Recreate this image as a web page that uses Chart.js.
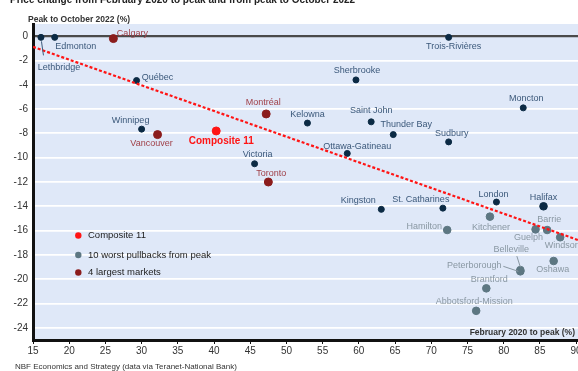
<!DOCTYPE html>
<html>
<head>
<meta charset="utf-8">
<script src="https://cdn.jsdelivr.net/npm/chart.js@4.4.1/dist/chart.umd.min.js"></script>
<style>
  html, body { margin: 0; padding: 0; background: #fff; overflow: hidden; }
  #wrap { position: relative; width: 584px; height: 371px; }
</style>
</head>
<body>
<div id="wrap"><canvas id="chart"></canvas></div>
<script>
// cities with no special highlight
const otherNames = ["Lethbridge", "Edmonton", "Québec", "Trois-Rivières", "Sherbrooke", "Moncton",
  "Winnipeg", "Victoria", "Kelowna", "Saint John", "Thunder Bay", "Sudbury", "Ottawa-Gatineau",
  "Kingston", "St. Catharines", "London", "Halifax"];
const otherX = [16.1, 18.0, 29.3, 72.4, 59.6, 82.7, 30.0, 45.6, 52.9, 61.7, 64.75, 72.4, 58.4, 63.1, 71.6, 79.0, 85.5];
const otherY = [-0.1, -0.1, -3.65, -0.1, -3.6, -5.9, -7.65, -10.5, -7.15, -7.05, -8.1, -8.7, -9.65, -14.25, -14.15, -13.65, -14.0];

// 10 worst pullbacks from peak
const worstNames = ["Kitchener", "Hamilton", "Guelph", "Barrie", "Windsor", "Oshawa",
  "Peterborough", "Belleville", "Brantford", "Abbotsford-Mission"];
const worstX = [78.1, 72.2, 84.4, 86.0, 87.8, 86.9, 82.3, 82.3, 77.6, 76.2];
const worstY = [-14.85, -15.95, -15.9, -15.95, -16.55, -18.5, -19.35, -19.25, -20.75, -22.6];

// 4 largest markets
const largestNames = ["Calgary", "Montréal", "Vancouver", "Toronto"];
const largestX = [26.1, 47.2, 32.2, 47.5];
const largestY = [-0.2, -6.4, -8.1, -12.0];

const compositeNames = ["Composite 11"];
const compositeX = [40.3];
const compositeY = [-7.8];

// trend line end points
const trendX = [15, 90.4];
const trendY = [-0.88, -16.8];

const xTicks = [15, 20, 25, 30, 35, 40, 45, 50, 55, 60, 65, 70, 75, 80, 85, 90];
const yTicks = [0, -2, -4, -6, -8, -10, -12, -14, -16, -18, -20, -22, -24];

const legendItems = ["Composite 11", "10 worst pullbacks from peak", "4 largest markets"];

const toPts = (xs, ys) => xs.map((x, i) => ({ x: x, y: ys[i] }));

const NAVY = "#0b2a44", GREY = "#5d7782", DARKRED = "#8b1c1c", RED = "#ff1414";
const FONT = "'Liberation Sans', Arial, sans-serif";

// label offsets in px from the point: [dx, dy]
const labelPos = {
  "Lethbridge": [18, 30], "Edmonton": [21, 9], "Calgary": [19, -5], "Québec": [21, -3],
  "Trois-Rivières": [5, 9], "Sherbrooke": [1, -9], "Moncton": [3, -9], "Winnipeg": [-11, -9],
  "Vancouver": [-6, 9], "Composite 11": [5, 10], "Victoria": [3, -9], "Toronto": [3, -8],
  "Montréal": [-3, -11], "Kelowna": [0, -9], "Saint John": [0, -11], "Thunder Bay": [13, -10],
  "Sudbury": [3, -8], "Ottawa-Gatineau": [10, -7], "Kingston": [-23, -9], "St. Catharines": [-22, -9],
  "London": [-3, -8], "Halifax": [0, -9], "Kitchener": [1, 11], "Hamilton": [-23, -3],
  "Guelph": [-7, 8], "Barrie": [2, -10], "Windsor": [1, 8], "Oshawa": [-1, 9],
  "Peterborough": [-46, -6], "Belleville": [-9, -21], "Brantford": [3, -9], "Abbotsford-Mission": [-2, -9]
};
const leaders = {
  "Lethbridge": [[0.5, 4], [2.5, 18]],
  "Peterborough": [[-17, -5], [-2, 0]],
  "Belleville": [[-3.5, -14], [0, -3]]
};

const bgPlugin = {
  id: "bg",
  beforeDraw(chart) {
    const { ctx, chartArea: a } = chart;
    ctx.save();
    ctx.fillStyle = "#dfe8f8";
    ctx.fillRect(a.left, a.top, chart.width - a.left, a.bottom - a.top);
    ctx.restore();
  }
};

const labelPlugin = {
  id: "cityLabels",
  afterDatasetsDraw(chart) {
    const ctx = chart.ctx;
    ctx.save();
    ctx.textAlign = "center";
    ctx.textBaseline = "middle";
    chart.data.datasets.forEach((ds, di) => {
      if (!ds.names) return;
      const meta = chart.getDatasetMeta(di);
      meta.data.forEach((el, i) => {
        const name = ds.names[i];
        const off = labelPos[name] || [0, -9];
        if (leaders[name]) {
          const [p0, p1] = leaders[name];
          ctx.strokeStyle = ds.labelColor;
          ctx.lineWidth = 1;
          ctx.beginPath();
          ctx.moveTo(el.x + p0[0], el.y + p0[1]);
          ctx.lineTo(el.x + p1[0], el.y + p1[1]);
          ctx.stroke();
        }
        ctx.fillStyle = ds.labelColor;
        ctx.font = ds.labelFont;
        ctx.fillText(name, el.x + off[0], el.y + off[1]);
      });
    });
    ctx.restore();
  },
  afterDraw(chart) {
    const ctx = chart.ctx;
    ctx.save();
    ctx.textBaseline = "alphabetic";
    ctx.fillStyle = "#222";
    ctx.font = "bold 10px " + FONT;
    ctx.textAlign = "left";
    ctx.fillText("Price change from February 2020 to peak and from peak to October 2022", 10, 2.5);
    ctx.font = "bold 8.5px " + FONT;
    ctx.fillStyle = "#333";
    ctx.fillText("Peak to October 2022 (%)", 28, 22);
    ctx.textAlign = "right";
    ctx.fillText("February 2020 to peak (%)", 575, 335);
    ctx.textAlign = "left";
    ctx.font = "8px " + FONT;
    ctx.fillStyle = "#333";
    ctx.fillText("NBF Economics and Strategy (data via Teranet-National Bank)", 15, 369);

    // legend
    const colors = [RED, GREY, DARKRED];
    const ys = [235.5, 255, 272.5];
    ctx.font = "9.5px " + FONT;
    ctx.textBaseline = "middle";
    legendItems.forEach((t, i) => {
      ctx.fillStyle = colors[i];
      ctx.beginPath();
      ctx.arc(78.3, ys[i], 3.2, 0, Math.PI * 2);
      ctx.fill();
      ctx.fillStyle = "#222";
      ctx.fillText(t, 88, ys[i]);
    });
    ctx.restore();
  }
};

document.addEventListener("DOMContentLoaded", () => {
  new Chart(document.getElementById("chart"), {
    type: "scatter",
    data: {
      datasets: [
        {
          type: "line",
          label: "Trend",
          data: toPts(trendX, trendY),
          borderColor: RED,
          borderWidth: 2.2,
          borderDash: [3, 2],
          pointRadius: 0,
          fill: false
        },
        {
          label: "Others",
          names: otherNames,
          labelColor: "#3b587a",
          labelFont: "9px " + FONT,
          data: toPts(otherX, otherY),
          backgroundColor: NAVY,
          borderColor: NAVY,
          pointRadius: otherNames.map((n) => (n === "Halifax" ? 3.8 : 3))
        },
        {
          label: "10 worst pullbacks from peak",
          names: worstNames,
          labelColor: "#8a98a3",
          labelFont: "9px " + FONT,
          data: toPts(worstX, worstY),
          backgroundColor: GREY,
          borderColor: GREY,
          pointRadius: 3.8
        },
        {
          label: "4 largest markets",
          names: largestNames,
          labelColor: "#a04048",
          labelFont: "9px " + FONT,
          data: toPts(largestX, largestY),
          backgroundColor: DARKRED,
          borderColor: DARKRED,
          pointRadius: 4
        },
        {
          label: "Composite 11",
          names: compositeNames,
          labelColor: RED,
          labelFont: "bold 10px " + FONT,
          data: toPts(compositeX, compositeY),
          backgroundColor: RED,
          borderColor: RED,
          pointRadius: 4
        }
      ]
    },
    options: {
      responsive: true,
      maintainAspectRatio: false,
      animation: false,
      layout: { padding: { top: 24, right: 0, bottom: 0, left: 0 } },
      plugins: {
        legend: { display: false },
        tooltip: { enabled: false }
      },
      scales: {
        x: {
          type: "linear",
          min: 15,
          max: 90.4,
          afterBuildTicks: (s) => { s.ticks = xTicks.map((v) => ({ value: v })); },
          afterFit: (s) => { s.height = 31; },
          grid: { drawOnChartArea: false, drawTicks: true, tickLength: 4, color: "#111", lineWidth: 1 },
          border: { display: true, color: "#111", width: 3 },
          ticks: {
            autoSkip: false,
            maxRotation: 0,
            padding: 1,
            color: "#333",
            font: { family: FONT, size: 10 }
          }
        },
        y: {
          type: "linear",
          min: -25,
          max: 1,
          afterBuildTicks: (s) => { s.ticks = yTicks.map((v) => ({ value: v })); },
          afterFit: (s) => { s.width = 33; },
          grid: {
            drawTicks: false,
            color: (c) => (c.tick && c.tick.value === 0 ? "#4a4a4a" : "#ffffff"),
            lineWidth: (c) => (c.tick && c.tick.value === 0 ? 2.2 : 1.8)
          },
          border: { display: true, color: "#111", width: 3 },
          ticks: {
            padding: 5,
            color: "#333",
            font: { family: FONT, size: 10 }
          }
        }
      }
    },
    plugins: [bgPlugin, labelPlugin]
  });
});
</script>
</body>
</html>
